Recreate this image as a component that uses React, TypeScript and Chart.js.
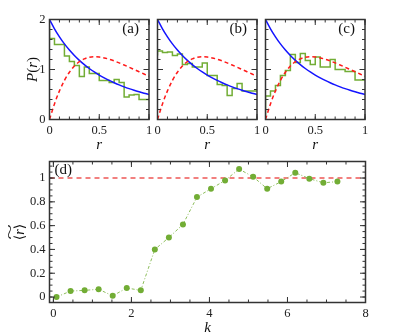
import React, { useEffect, useRef } from "react";
import { Chart, registerables } from "chart.js";
Chart.register(...registerables);

// ---------- data: panels (a)-(c) ----------
const binEdges = [0, 0.05, 0.1, 0.15, 0.2, 0.25, 0.3, 0.35, 0.4, 0.45, 0.5, 0.55, 0.6, 0.65, 0.7, 0.75, 0.8, 0.85, 0.9, 0.95];
const binEnd = 1;
const histA = [1.88, 1.62, 1.5, 1.5, 1.27, 1.16, 1.08, 0.86, 1.05, 0.92, 0.92, 0.78, 0.78, 0.74, 0.8, 0.74, 0.45, 0.49, 0.5, 0.4];
const histB = [1.28, 1.37, 1.34, 1.35, 1.28, 1.31, 1.1, 1.12, 1.05, 1.05, 1.13, 0.88, 0.88, 0.7, 0.68, 0.48, 0.62, 0.72, 0.57, 0.57];
const histC = [0.09, 0.47, 0.57, 0.68, 0.88, 0.98, 1.3, 1.14, 1.32, 1.18, 1.1, 1.25, 1.05, 1.05, 1.2, 1.0, 1.0, 0.96, 0.96, 0.79];
const curveR = [0, 0.05, 0.1, 0.15, 0.2, 0.25, 0.3, 0.35, 0.4, 0.45, 0.5, 0.55, 0.6, 0.65, 0.7, 0.75, 0.8, 0.85, 0.9, 0.95, 1];
const poissonP = [2.0, 1.814, 1.653, 1.512, 1.389, 1.28, 1.183, 1.097, 1.02, 0.951, 0.889, 0.832, 0.781, 0.735, 0.692, 0.653, 0.617, 0.584, 0.554, 0.526, 0.5];
const goeP = [0, 0.312, 0.572, 0.782, 0.946, 1.069, 1.156, 1.212, 1.244, 1.255, 1.25, 1.232, 1.205, 1.171, 1.132, 1.089, 1.045, 1.0, 0.955, 0.91, 0.866];
const panelXTicks = [0, 0.5, 1];
const panelXTickLabels = ["0", "0.5", "1"];
const panelYTicks = [0, 1, 2];
const panelYTickLabels = ["0", "1", "2"];

// ---------- data: panel (d) ----------
const kValues = [0.08, 0.44, 0.8, 1.16, 1.52, 1.88, 2.24, 2.6, 2.96, 3.32, 3.68, 4.04, 4.4, 4.76, 5.12, 5.48, 5.84, 6.2, 6.56, 6.92, 7.28];
const rMean = [0.0, 0.05, 0.056, 0.065, 0.01, 0.076, 0.056, 0.4, 0.5, 0.61, 0.84, 0.91, 0.98, 1.075, 1.01, 0.91, 0.97, 1.045, 0.995, 0.96, 0.97];
const refK = [-0.1, 8];
const refLevel = [1, 1];
const dXTicks = [0, 2, 4, 6, 8];
const dXTickLabels = ["0", "2", "4", "6", "8"];
const dYTicks = [0, 0.2, 0.4, 0.6, 0.8, 1];
const dYTickLabels = ["0", "0.2", "0.4", "0.6", "0.8", "1"];

const SERIF = "'Liberation Serif', 'DejaVu Serif', serif";
const GREEN = "#72ad35";
const FRAME = "#333333";

function framePlugin(cfg: any) {
  return {
    id: "frame" + cfg.name,
    afterDatasetsDraw(chart: any) {
      const { ctx, chartArea: ca, scales } = chart;
      const xs = scales.x, ys = scales.y;
      ctx.save();
      ctx.strokeStyle = FRAME;
      ctx.lineWidth = 1;
      const line = (x1: number, y1: number, x2: number, y2: number) => {
        ctx.beginPath(); ctx.moveTo(x1, y1); ctx.lineTo(x2, y2); ctx.stroke();
      };
      const xTick = (v: number, len: number) => {
        const p = xs.getPixelForValue(v);
        if (p < ca.left - 0.5 || p > ca.right + 0.5) return;
        line(p, ca.bottom, p, ca.bottom - len);
        line(p, ca.top, p, ca.top + len);
      };
      const yTick = (v: number, len: number) => {
        const p = ys.getPixelForValue(v);
        if (p < ca.top - 0.5 || p > ca.bottom + 0.5) return;
        line(ca.left, p, ca.left + len, p);
        line(ca.right, p, ca.right - len, p);
      };
      for (let i = 0; ; i++) {
        const v = cfg.xMinorStart + i * cfg.xMinor;
        if (v > cfg.xMinorEnd + 1e-9) break;
        xTick(v, 3);
      }
      for (let i = 0; ; i++) {
        const v = cfg.yMinorStart + i * cfg.yMinor;
        if (v > cfg.yMinorEnd + 1e-9) break;
        yTick(v, 3);
      }
      cfg.xMajor.forEach((v: number) => xTick(v, 5.5));
      cfg.yMajor.forEach((v: number) => yTick(v, 5.5));
      ctx.lineWidth = 1.5;
      ctx.strokeRect(ca.left, ca.top, ca.right - ca.left, ca.bottom - ca.top);
      ctx.fillStyle = "#111";
      cfg.drawText(ctx, ca);
      ctx.restore();
    },
  };
}

function topPanel(name: string, hist: number[], showY: boolean, yW: number, padRight: number) {
  const histPts = binEdges.map((e, i) => ({ x: e, y: hist[i] }));
  histPts.push({ x: binEnd, y: hist[hist.length - 1] });
  return {
    type: "line",
    data: {
      datasets: [
        {
          data: curveR.map((r, i) => ({ x: r, y: goeP[i] })),
          borderColor: "#ff1a1a", borderWidth: 1.5, borderDash: [4, 3],
          pointRadius: 0, cubicInterpolationMode: "monotone", order: 0,
        },
        {
          data: curveR.map((r, i) => ({ x: r, y: poissonP[i] })),
          borderColor: "#1414ff", borderWidth: 1.5,
          pointRadius: 0, cubicInterpolationMode: "monotone", order: 1,
        },
        {
          data: histPts, stepped: "after",
          borderColor: GREEN, borderWidth: 1.5, pointRadius: 0, order: 2,
        },
      ],
    },
    options: {
      responsive: false, animation: false, devicePixelRatio: 1,
      layout: { padding: { top: 19.5, right: padRight, left: 0, bottom: 0 } },
      plugins: { legend: { display: false }, tooltip: { enabled: false } },
      scales: {
        x: {
          type: "linear", min: 0, max: 1,
          afterBuildTicks: (s: any) => { s.ticks = panelXTicks.map((v) => ({ value: v })); },
          afterFit: (s: any) => { s.height = 35.5; },
          ticks: {
            callback: (_v: any, i: number) => panelXTickLabels[i],
            font: { family: SERIF, size: 12.5 }, color: "#222", padding: 4, maxRotation: 0, autoSkip: false,
          },
          grid: { display: false, drawTicks: false }, border: { display: false },
        },
        y: {
          type: "linear", min: 0, max: 2,
          afterBuildTicks: (s: any) => { s.ticks = panelYTicks.map((v) => ({ value: v })); },
          afterFit: (s: any) => { s.width = yW; },
          ticks: {
            display: showY,
            callback: (_v: any, i: number) => panelYTickLabels[i],
            font: { family: SERIF, size: 12.5 }, color: "#222", padding: 4,
          },
          grid: { display: false, drawTicks: false }, border: { display: false },
        },
      },
    },
    plugins: [
      framePlugin({
        name,
        xMinorStart: 0, xMinor: 0.1, xMinorEnd: 1, xMajor: panelXTicks,
        yMinorStart: 0, yMinor: 0.2, yMinorEnd: 2, yMajor: panelYTicks,
        drawText: (ctx: any, ca: any) => {
          ctx.textBaseline = "alphabetic";
          ctx.font = `italic 15px ${SERIF}`;
          ctx.textAlign = "center";
          ctx.fillText("r", (ca.left + ca.right) / 2, ca.bottom + 29.5);
          ctx.font = `15px ${SERIF}`;
          ctx.textAlign = "right";
          ctx.fillText("(" + name + ")", ca.right - 10, ca.top + 13.5);
          if (showY) {
            ctx.save();
            ctx.translate(37, (ca.top + ca.bottom) / 2);
            ctx.rotate(-Math.PI / 2);
            const parts: [string, boolean][] = [["P", true], ["(", false], ["r", true], [")", false]];
            let total = 0;
            parts.forEach(([t, it]) => { ctx.font = `${it ? "italic " : ""}15px ${SERIF}`; total += ctx.measureText(t).width; });
            let xx = -total / 2;
            ctx.textAlign = "left";
            parts.forEach(([t, it]) => {
              ctx.font = `${it ? "italic " : ""}15px ${SERIF}`;
              ctx.fillText(t, xx, 0);
              xx += ctx.measureText(t).width;
            });
            ctx.restore();
          }
        },
      }),
    ],
  };
}

function bottomPanel() {
  return {
    type: "line",
    data: {
      datasets: [
        {
          data: kValues.map((k, i) => ({ x: k, y: rMean[i] })),
          borderColor: "#8cbd5a", borderWidth: 1, borderDash: [3, 2, 1, 2],
          pointRadius: 3, pointBackgroundColor: GREEN, pointBorderWidth: 0, order: 0,
        },
        {
          data: refK.map((k, i) => ({ x: k, y: refLevel[i] })),
          borderColor: "#f2807f", borderWidth: 2, borderDash: [5, 4],
          pointRadius: 0, order: 1,
        },
      ],
    },
    options: {
      responsive: false, animation: false, devicePixelRatio: 1,
      layout: { padding: { top: 11.5, right: 49.5, left: 0, bottom: 0 } },
      plugins: { legend: { display: false }, tooltip: { enabled: false } },
      scales: {
        x: {
          type: "linear", min: -0.1, max: 8,
          afterBuildTicks: (s: any) => { s.ticks = dXTicks.map((v) => ({ value: v })); },
          afterFit: (s: any) => { s.height = 33.5; },
          ticks: {
            callback: (_v: any, i: number) => dXTickLabels[i],
            font: { family: SERIF, size: 12.5 }, color: "#222", padding: 4, maxRotation: 0, autoSkip: false,
          },
          grid: { display: false, drawTicks: false }, border: { display: false },
        },
        y: {
          type: "linear", min: -0.046, max: 1.139,
          afterBuildTicks: (s: any) => { s.ticks = dYTicks.map((v) => ({ value: v })); },
          afterFit: (s: any) => { s.width = 49.5; },
          ticks: {
            callback: (_v: any, i: number) => dYTickLabels[i],
            font: { family: SERIF, size: 12.5 }, color: "#222", padding: 4,
          },
          grid: { display: false, drawTicks: false }, border: { display: false },
        },
      },
    },
    plugins: [
      framePlugin({
        name: "d",
        xMinorStart: 0, xMinor: 0.5, xMinorEnd: 8, xMajor: dXTicks,
        yMinorStart: 0, yMinor: 0.05, yMinorEnd: 1.1, yMajor: dYTicks,
        drawText: (ctx: any, ca: any) => {
          ctx.textBaseline = "alphabetic";
          ctx.font = `italic 15px ${SERIF}`;
          ctx.textAlign = "center";
          ctx.fillText("k", (ca.left + ca.right) / 2, ca.bottom + 29.5);
          ctx.font = `15px ${SERIF}`;
          ctx.textAlign = "left";
          ctx.fillText("(d)", ca.left + 5, ca.top + 12.5);
          // y title: widetilde <r>
          ctx.save();
          ctx.translate(24, (ca.top + ca.bottom) / 2);
          ctx.rotate(-Math.PI / 2);
          const parts: [string, boolean][] = [["\u27E8", false], ["r", true], ["\u27E9", false]];
          let total = 0;
          parts.forEach(([t, it]) => { ctx.font = `${it ? "italic " : ""}14px ${SERIF}`; total += ctx.measureText(t).width; });
          let xx = -total / 2;
          ctx.textAlign = "left";
          parts.forEach(([t, it]) => {
            ctx.font = `${it ? "italic " : ""}14px ${SERIF}`;
            ctx.fillText(t, xx, 0);
            xx += ctx.measureText(t).width;
          });
          ctx.font = `14px ${SERIF}`;
          ctx.textAlign = "center";
          ctx.save();
          ctx.scale(total / 8, 1);
          ctx.fillText("~", 0, -9);
          ctx.restore();
          ctx.restore();
        },
      }),
    ],
  };
}

export default function App() {
  const refA = useRef<HTMLCanvasElement>(null);
  const refB = useRef<HTMLCanvasElement>(null);
  const refC = useRef<HTMLCanvasElement>(null);
  const refD = useRef<HTMLCanvasElement>(null);
  useEffect(() => {
    const charts = [
      new Chart(refA.current as any, topPanel("a", histA, true, 49.5, 8) as any),
      new Chart(refB.current as any, topPanel("b", histB, false, 10.5, 8) as any),
      new Chart(refC.current as any, topPanel("c", histC, false, 10.5, 8) as any),
      new Chart(refD.current as any, bottomPanel() as any),
    ];
    return () => charts.forEach((c) => c.destroy());
  }, []);
  const cs = (l: number, t: number, w: number, h: number): React.CSSProperties => ({
    position: "absolute", left: l, top: t, width: w, height: h,
  });
  return (
    <div style={{ position: "absolute", left: 0, top: 0, width: 415, height: 336, background: "#fff" }}>
      <canvas ref={refA} width={157} height={155} style={cs(0, 0, 157, 155)} />
      <canvas ref={refB} width={118} height={155} style={cs(147, 0, 118, 155)} />
      <canvas ref={refC} width={118} height={155} style={cs(255, 0, 118, 155)} />
      <canvas ref={refD} width={415} height={186} style={cs(0, 150, 415, 186)} />
    </div>
  );
}
